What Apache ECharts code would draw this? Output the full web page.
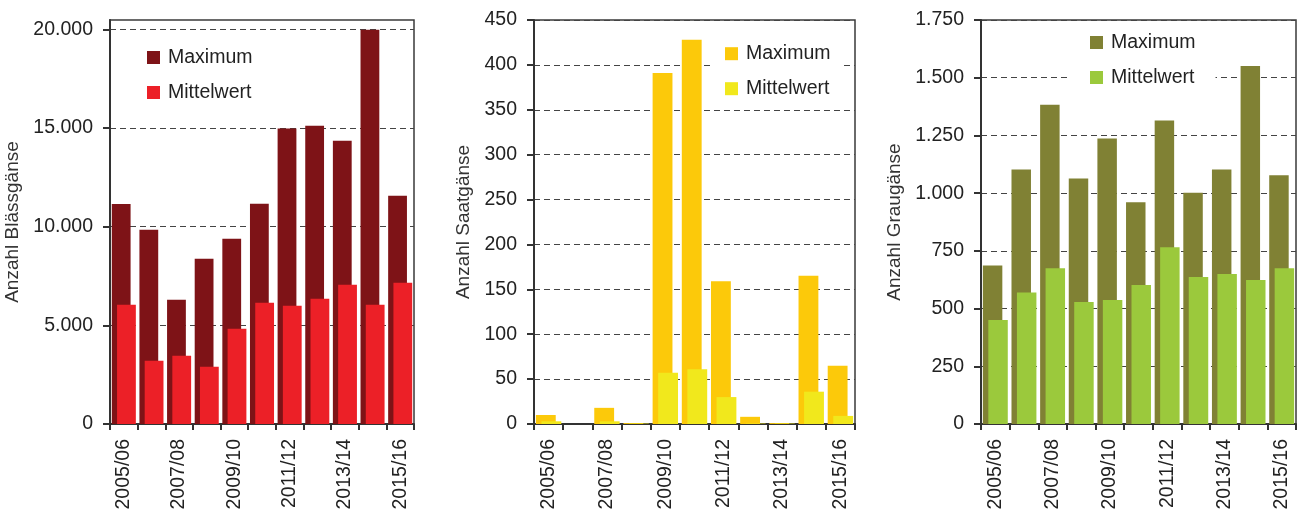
<!DOCTYPE html>
<html>
<head>
<meta charset="utf-8">
<script src="https://cdn.jsdelivr.net/npm/echarts@6/dist/echarts.min.js"></script>
<style>
  html, body { margin: 0; padding: 0; background: #fff; }
  #wrap { position: relative; width: 1297px; height: 510px; overflow: hidden; }
  .c { position: absolute; top: 0; height: 510px; }
</style>
</head>
<body>
<div id="wrap">
  <div id="c1" class="c" style="left:0;width:430px"></div>
  <div id="c2" class="c" style="left:430px;width:432px"></div>
  <div id="c3" class="c" style="left:862px;width:435px"></div>
</div>
<script>
const categories = ['2005/06','2006/07','2007/08','2008/09','2009/10','2010/11','2011/12','2012/13','2013/14','2014/15','2015/16'];

const blessMax  = [11150, 9840, 6300, 8370, 9380, 11160, 14970, 15110, 14350, 19980, 11560];
const blessMean = [6040, 3210, 3460, 2900, 4830, 6140, 5990, 6350, 7050, 6040, 7160];
const blessTicks = [0, 5000, 10000, 15000, 20000];

const saatMax  = [10, 0, 18, 1, 391, 428, 159, 8, 1, 165, 65];
const saatMean = [3, 0, 3, 0.5, 57, 61, 30, 0.5, 0.5, 36, 9];
const saatTicks = [0, 50, 100, 150, 200, 250, 300, 350, 400, 450];

const grauMax  = [687, 1102, 1383, 1063, 1237, 961, 1315, 1002, 1102, 1551, 1077];
const grauMean = [451, 570, 675, 529, 537, 602, 766, 637, 650, 624, 675];
const grauTicks = [0, 250, 500, 750, 1000, 1250, 1500, 1750];

const seriesNames = ['Maximum', 'Mittelwert'];

function fmt(v) {
  return String(v).replace(/\B(?=(\d{3})+(?!\d))/g, '.');
}

const FONT = "'Liberation Sans', Arial, Helvetica, sans-serif";

function makeOption(cfg) {
  return {
    animation: false,
    textStyle: { fontFamily: FONT },
    grid: {
      left: cfg.gridLeft, top: 20, width: cfg.gridWidth, height: 404,
      outerBoundsMode: 'none',
      containLabel: false,
      show: true, borderColor: '#3a3a3a', borderWidth: 1.5, backgroundColor: 'transparent'
    },
    legend: {
      orient: 'vertical',
      left: cfg.legendLeft, top: cfg.legendTop,
      padding: cfg.legendPad,
      backgroundColor: '#fff',
      icon: 'rect',
      itemWidth: 13, itemHeight: 13, itemGap: 15,
      textStyle: { fontFamily: FONT, fontSize: 19.5, color: '#222', padding: [0, 0, 0, 3] },
      data: seriesNames
    },
    xAxis: {
      type: 'category',
      data: categories,
      boundaryGap: true,
      axisLine: { show: true, lineStyle: { color: '#333', width: 2 } },
      axisTick: { show: true, interval: 0, length: 6, alignWithLabel: false, lineStyle: { color: '#333', width: 2 } },
      axisLabel: { interval: 1, rotate: 90, margin: 15, fontSize: 19.5, color: '#222', fontFamily: FONT },
      splitLine: { show: false }
    },
    yAxis: {
      type: 'value',
      min: 0, max: cfg.max,
      name: cfg.name,
      nameLocation: 'middle',
      nameGap: cfg.nameGap,
      nameTextStyle: { fontSize: 19, color: '#333', fontFamily: FONT },
      axisLine: { show: true, lineStyle: { color: '#333', width: 2 } },
      axisTick: { show: true, length: 7, customValues: cfg.ticks, lineStyle: { color: '#333', width: 2 } },
      axisLabel: { customValues: cfg.ticks, formatter: fmt, margin: 17, fontSize: 19.5, color: '#222', fontFamily: FONT },
      splitLine: { show: true, lineStyle: { color: '#444', width: 1, type: [6, 4] } }
    },
    series: [
      { name: seriesNames[0], type: 'bar', data: cfg.maxData, barWidth: '68%', barGap: '-72%',
        itemStyle: { color: cfg.colors[0] } },
      { name: seriesNames[1], type: 'bar', data: cfg.meanData, barWidth: '68%', barGap: '-72%',
        itemStyle: { color: cfg.colors[1] } }
    ]
  };
}

const c1 = echarts.init(document.getElementById('c1'), null, { renderer: 'canvas' });
c1.setOption(makeOption({
  gridLeft: 110, gridWidth: 304, max: 20470, ticks: blessTicks,
  name: 'Anzahl Blässgänse', nameGap: 80,
  legendLeft: 135, legendTop: 41.5, legendPad: [6, 12, 6, 12],
  maxData: blessMax, meanData: blessMean, colors: ['#7E1317', '#EC2027']
}));

const c2 = echarts.init(document.getElementById('c2'), null, { renderer: 'canvas' });
c2.setOption(makeOption({
  gridLeft: 104, gridWidth: 321, max: 450, ticks: saatTicks,
  name: 'Anzahl Saatgänse', nameGap: 59,
  legendLeft: 283, legendTop: 37.7, legendPad: [6, 12, 6, 12],
  maxData: saatMax, meanData: saatMean, colors: ['#FCC90A', '#F1E81C']
}));

const c3 = echarts.init(document.getElementById('c3'), null, { renderer: 'canvas' });
c3.setOption(makeOption({
  gridLeft: 119, gridWidth: 315, max: 1750, ticks: grauTicks,
  name: 'Anzahl Graugänse', nameGap: 68,
  legendLeft: 208, legendTop: 26.5, legendPad: [6, 20, 6, 20],
  maxData: grauMax, meanData: grauMean, colors: ['#808134', '#9BC93C']
}));
</script>
</body>
</html>
